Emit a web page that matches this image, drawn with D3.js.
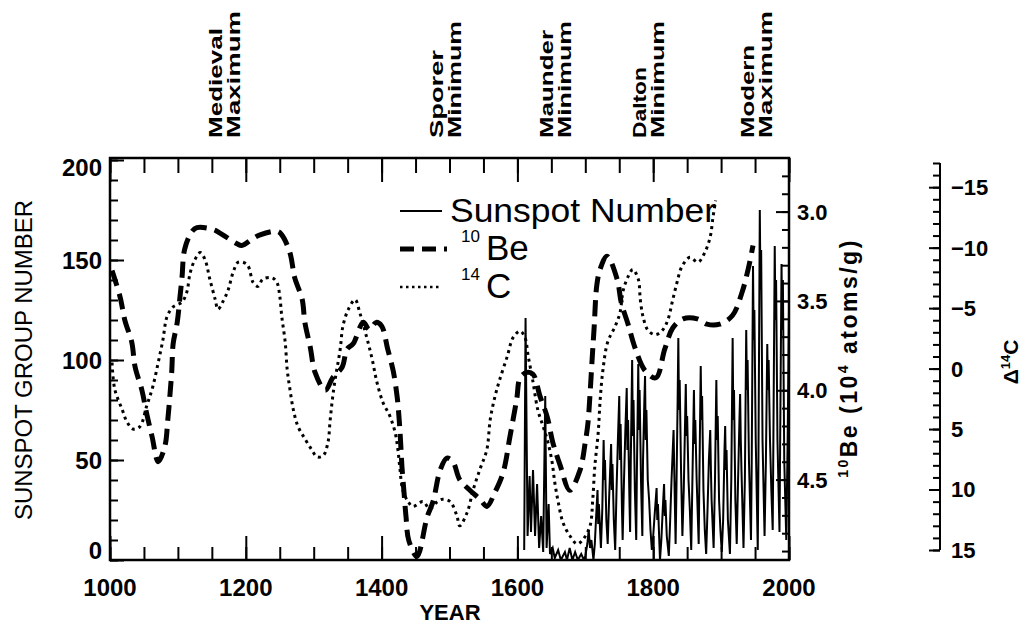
<!DOCTYPE html>
<html><head><meta charset="utf-8">
<script src="https://cdn.jsdelivr.net/npm/d3@7"></script>
<style>body{margin:0;background:#fff}svg{display:block}</style>
</head><body>
<svg id="c" width="1033" height="628"></svg>
<script>
// ---------------- data ----------------
const yearTicks = [1000, 1200, 1400, 1600, 1800, 2000];
const sunspotTicks = [0, 50, 100, 150, 200];
const beTicks = [3.0, 3.5, 4.0, 4.5];
const c14Ticks = [-15, -10, -5, 0, 5, 10, 15];

const periodNames = [["Medieval", "Maximum"], ["Sporer", "Minimum"], ["Maunder", "Minimum"], ["Dalton", "Minimum"], ["Modern", "Maximum"]];
const periodYears = [1165, 1490, 1652, 1790, 1948];

const legendLabels = ["Sunspot Number", "Be", "C"];
const legendSups = ["", "10", "14"];

// group sunspot number (year, value)
const sunspot = [[1610,5],[1612,121],[1615,12],[1618,42],[1620,14],[1623,45],[1626,12],[1629,38],[1632,6],[1635,22],[1638,4],[1641,82],[1643,6],[1646,28],[1648,3],[1652,6],[1655,1],[1660,5],[1664,0],[1670,4],[1673,0],[1677,6],[1681,0],[1685,4],[1689,0],[1694,3],[1698,0],
[1700,2],[1703,8],[1705,15],[1707,6],[1709,10],[1712,0],
[1714,8],[1716,22],[1718,35],[1719,18],[1720,28],[1723,6],
[1725,25],[1727,60],[1728,40],[1729,50],[1731,20],[1733,8],
[1735,30],[1738,58],[1739,35],[1740,48],[1742,20],[1744,5],
[1746,35],[1748,60],[1750,82],[1751,50],[1752,68],[1754,25],[1755,10],
[1757,40],[1759,65],[1761,86],[1762,55],[1763,70],[1765,30],[1766,14],
[1767,50],[1769,100],[1770,62],[1771,80],[1773,35],[1775,10],
[1776,45],[1778,98],[1779,65],[1780,85],[1782,40],[1784,12],
[1785,50],[1787,80],[1788,92],[1789,60],[1790,75],[1792,40],[1794,30],[1796,15],[1798,5],
[1800,12],[1802,22],[1805,36],[1806,20],[1807,28],[1810,0],
[1812,10],[1814,25],[1816,38],[1817,22],[1818,30],[1820,12],[1823,2],
[1825,20],[1827,40],[1830,65],[1831,45],[1833,8],
[1834,30],[1836,80],[1837,111],[1838,75],[1839,90],[1841,45],[1843,12],
[1845,35],[1847,70],[1848,88],[1849,62],[1850,72],[1852,40],[1854,25],[1856,5],
[1857,25],[1859,65],[1860,85],[1861,58],[1862,70],[1864,40],[1867,8],
[1868,40],[1870,97],[1871,70],[1872,82],[1874,35],[1876,15],[1878,3],
[1880,25],[1882,50],[1884,65],[1885,45],[1886,30],[1889,6],
[1891,40],[1893,90],[1894,60],[1895,72],[1897,30],[1899,15],[1901,4],
[1903,20],[1905,55],[1906,67],[1907,45],[1908,55],[1910,20],[1913,3],
[1915,40],[1917,111],[1918,70],[1919,85],[1921,30],[1923,8],
[1925,40],[1927,70],[1928,83],[1929,60],[1930,45],[1933,6],
[1935,40],[1937,115],[1938,85],[1939,100],[1941,50],[1944,10],
[1945,45],[1947,147],[1948,110],[1949,125],[1951,60],[1954,5],
[1955,50],[1957,175],[1958,135],[1959,155],[1961,60],[1964,12],
[1966,50],[1968,108],[1969,85],[1970,100],[1972,60],[1974,35],[1976,15],
[1977,60],[1979,157],[1980,120],[1981,140],[1983,60],[1986,14],
[1987,60],[1989,148],[1990,115],[1991,140],[1993,50],[1996,10],
[1998,60],[2000,125]];

// 10Be concentration (10^4 atoms/g)
const be10 = [[1003,3.33],[1015,3.48],[1022,3.61],[1032,3.73],[1037,3.87],[1047,4.00],[1054,4.13],[1062,4.26],[1071,4.40],[1081,4.31],[1085,4.17],[1088,4.04],[1091,3.89],[1093,3.74],[1099,3.62],[1103,3.48],[1106,3.37],[1110,3.21],[1121,3.11],[1128,3.09],[1152,3.10],[1162,3.12],[1187,3.18],[1194,3.19],[1211,3.15],[1221,3.13],[1246,3.11],[1253,3.13],[1265,3.23],[1272,3.37],[1283,3.49],[1287,3.62],[1295,3.76],[1302,3.90],[1317,4.00],[1328,3.93],[1342,3.87],[1349,3.77],[1358,3.74],[1373,3.62],[1382,3.66],[1392,3.62],[1400,3.64],[1409,3.77],[1417,3.89],[1423,4.04],[1426,4.17],[1428,4.29],[1430,4.43],[1433,4.57],[1436,4.71],[1440,4.84],[1452,4.93],[1467,4.71],[1476,4.62],[1486,4.45],[1496,4.38],[1505,4.40],[1515,4.50],[1530,4.56],[1545,4.61],[1555,4.65],[1567,4.57],[1579,4.46],[1589,4.26],[1599,4.05],[1604,3.93],[1614,3.90],[1623,3.91],[1633,4.03],[1644,4.15],[1652,4.29],[1663,4.42],[1677,4.56],[1692,4.45],[1700,4.29],[1704,4.18],[1707,4.02],[1710,3.83],[1713,3.65],[1717,3.41],[1722,3.32],[1732,3.25],[1747,3.38],[1753,3.51],[1763,3.63],[1773,3.76],[1788,3.89],[1804,3.93],[1817,3.77],[1829,3.65],[1844,3.60],[1865,3.60],[1879,3.63],[1898,3.63],[1917,3.58],[1931,3.45],[1940,3.32],[1947,3.19]];

// Delta 14C (per mil)
const c14 = [[1003,-0.5],[1007,1.7],[1018,3.4],[1025,4.4],[1034,5.0],[1044,4.8],[1054,3.1],[1063,1.5],[1071,-0.5],[1078,-2.4],[1084,-4.3],[1093,-5.1],[1106,-5.5],[1113,-6.3],[1118,-7.9],[1125,-9.0],[1133,-9.6],[1140,-9.0],[1147,-7.4],[1155,-5.7],[1159,-4.9],[1166,-5.5],[1174,-6.5],[1181,-7.9],[1189,-8.8],[1202,-8.6],[1211,-7.1],[1218,-6.8],[1225,-7.4],[1239,-7.5],[1246,-7.1],[1250,-6.0],[1253,-4.3],[1258,-2.2],[1261,0.1],[1265,1.7],[1270,3.4],[1277,4.8],[1287,5.8],[1297,6.7],[1305,7.3],[1314,7.2],[1321,6.1],[1324,4.4],[1327,2.8],[1331,1.1],[1339,-1.6],[1343,-3.5],[1351,-4.9],[1361,-5.7],[1368,-4.6],[1378,-2.6],[1386,-0.8],[1393,1.1],[1402,2.8],[1412,3.9],[1420,5.3],[1424,6.7],[1427,8.3],[1431,10.0],[1439,11.0],[1446,11.4],[1461,11.0],[1471,11.6],[1482,11.0],[1490,10.8],[1501,11.0],[1511,12.2],[1515,13.0],[1526,11.9],[1535,10.0],[1545,8.3],[1555,6.7],[1560,4.2],[1567,2.3],[1574,0.9],[1585,-1.0],[1594,-2.6],[1604,-3.1],[1611,-2.6],[1616,-1.0],[1623,1.1],[1630,3.4],[1638,4.8],[1645,6.1],[1651,7.7],[1655,9.4],[1660,11.0],[1667,12.7],[1677,13.8],[1688,14.5],[1697,14.1],[1707,13.0],[1711,10.8],[1714,8.1],[1719,5.3],[1722,2.5],[1726,0.1],[1733,-2.2],[1744,-3.5],[1751,-4.6],[1756,-6.5],[1763,-7.6],[1770,-8.2],[1778,-7.4],[1781,-5.7],[1785,-4.3],[1792,-3.2],[1803,-2.8],[1814,-3.2],[1822,-4.1],[1828,-5.5],[1835,-7.1],[1842,-8.4],[1854,-9.2],[1866,-8.8],[1876,-9.6],[1884,-10.9],[1888,-12.5],[1892,-13.9]];

// ---------------- layout ----------------
const L = 110, R = 789, T = 158, B = 560;
const svg = d3.select("#c");
const FONT = "'Liberation Sans', Arial, sans-serif";

const x = d3.scaleLinear().domain([1000, 2000]).range([L, R]);
const yS = d3.scaleLinear().domain([0, 201]).range([B, T]);
const yBe = d3.scaleLinear().domain([2.7, 4.95]).range([T, B]);
const yC = d3.scaleLinear().domain([-17, 15]).range([163, 550]);

svg.append("defs").append("clipPath").attr("id", "clip")
  .append("rect").attr("x", L).attr("y", T).attr("width", R - L).attr("height", B - T);

function tickStyle(g) {
  g.select(".domain").remove();
  g.selectAll(".tick line").attr("stroke", "#000").attr("stroke-width", 2);
  g.selectAll(".tick text").remove();
}

// left axis ticks (inside)
svg.append("g").attr("transform", `translate(${L},0)`)
  .call(d3.axisRight(yS).tickValues(d3.range(0, 201, 10)).tickSize(8)).call(tickStyle);
svg.append("g").attr("transform", `translate(${L},0)`)
  .call(d3.axisRight(yS).tickValues(sunspotTicks).tickSize(14)).call(tickStyle);
// bottom ticks
svg.append("g").attr("transform", `translate(0,${B})`)
  .call(d3.axisTop(x).tickValues(d3.range(1000, 2001, 50)).tickSize(13)).call(tickStyle);
svg.append("g").attr("transform", `translate(0,${B})`)
  .call(d3.axisTop(x).tickValues(yearTicks).tickSize(24)).call(tickStyle);
// top ticks
svg.append("g").attr("transform", `translate(0,${T})`)
  .call(d3.axisBottom(x).tickValues(d3.range(1000, 2001, 50)).tickSize(15)).call(tickStyle);
svg.append("g").attr("transform", `translate(0,${T})`)
  .call(d3.axisBottom(x).tickValues(yearTicks).tickSize(24)).call(tickStyle);
// right 10Be ticks
svg.append("g").attr("transform", `translate(${R},0)`)
  .call(d3.axisLeft(yBe).tickValues(d3.range(28, 50).map(v => v / 10)).tickSize(7)).call(tickStyle);
svg.append("g").attr("transform", `translate(${R},0)`)
  .call(d3.axisLeft(yBe).tickValues(beTicks).tickSize(13)).call(tickStyle);
// Delta 14C axis
const cx = 940;
svg.append("line").attr("x1", cx).attr("x2", cx).attr("y1", yC(-17)).attr("y2", yC(15))
  .attr("stroke", "#000").attr("stroke-width", 2);
svg.append("g").attr("transform", `translate(${cx},0)`)
  .call(d3.axisLeft(yC).tickValues(d3.range(-17, 16, 1)).tickSize(7)).call(tickStyle);
svg.append("g").attr("transform", `translate(${cx},0)`)
  .call(d3.axisLeft(yC).tickValues(c14Ticks).tickSize(11)).call(tickStyle);

// frame
svg.append("rect").attr("x", L).attr("y", T).attr("width", R - L).attr("height", B - T)
  .attr("fill", "none").attr("stroke", "#000").attr("stroke-width", 2.5);

// tick labels
const lab = svg.append("g").attr("font-family", FONT).attr("font-weight", "bold").attr("fill", "#000");
lab.selectAll(".yl").data(sunspotTicks).join("text")
  .attr("x", 102).attr("y", d => Math.min(Math.max(yS(d), 167), 550)).attr("dy", "0.36em")
  .attr("text-anchor", "end").attr("font-size", 24).text(d => d);
lab.selectAll(".xl").data(yearTicks).join("text")
  .attr("x", d => x(d)).attr("y", 596).attr("text-anchor", "middle").attr("font-size", 24).text(d => d);
lab.selectAll(".bl").data(beTicks).join("text")
  .attr("x", 797).attr("y", d => yBe(d)).attr("dy", "0.36em").attr("font-size", 22).text(d => d.toFixed(1));
lab.selectAll(".cl").data(c14Ticks).join("text")
  .attr("x", 951).attr("y", d => yC(d)).attr("dy", "0.36em").attr("font-size", 22)
  .text(d => d < 0 ? "\u2212" + Math.abs(d) : String(d));

// axis titles
svg.append("text").attr("transform", `translate(32,360) rotate(-90)`).attr("text-anchor", "middle")
  .attr("font-family", FONT).attr("font-size", 24).attr("textLength", 320).attr("lengthAdjust", "spacingAndGlyphs")
  .text("SUNSPOT GROUP NUMBER");
svg.append("text").attr("x", 450).attr("y", 620).attr("text-anchor", "middle")
  .attr("font-family", FONT).attr("font-weight", "bold").attr("font-size", 22).text("YEAR");
const beT = svg.append("text").attr("transform", `translate(857,358) rotate(-90)`).attr("text-anchor", "middle")
  .attr("font-family", FONT).attr("font-weight", "bold").attr("letter-spacing", 2.5);
beT.append("tspan").attr("font-size", 14).attr("dy", -9).text("10");
beT.append("tspan").attr("font-size", 23).attr("dy", 9).text("Be (10");
beT.append("tspan").attr("font-size", 14).attr("dy", -9).text("4");
beT.append("tspan").attr("font-size", 23).attr("dy", 9).text(" atoms/g)");
const cT = svg.append("text").attr("transform", `translate(1018,362) rotate(-90)`).attr("text-anchor", "middle")
  .attr("font-family", FONT).attr("font-weight", "bold");
cT.append("tspan").attr("font-size", 21).text("\u0394");
cT.append("tspan").attr("font-size", 13).attr("dy", -8).text("14");
cT.append("tspan").attr("font-size", 21).attr("dy", 8).text("C");

// period annotations
const periodLen = { "Medieval": 110, "Maximum": 127, "Sporer": 88, "Minimum": 117, "Maunder": 108, "Dalton": 71, "Modern": 93 };
const ann = svg.append("g").attr("font-family", FONT).attr("font-weight", "bold").attr("font-size", 19);
periodNames.forEach((lines, i) => {
  lines.forEach((t, j) => {
    ann.append("text").attr("transform", `translate(${x(periodYears[i]) + j * 18},138) rotate(-90)`)
      .attr("textLength", periodLen[t]).attr("lengthAdjust", "spacingAndGlyphs").text(t);
  });
});

// data lines
const plot = svg.append("g").attr("clip-path", "url(#clip)");
const lineS = d3.line().x(d => x(d[0])).y(d => yS(d[1]));
const lineBe = d3.line().x(d => x(d[0])).y(d => yBe(d[1])).curve(d3.curveCatmullRom.alpha(0.5));
const lineC = d3.line().x(d => x(d[0])).y(d => yC(d[1])).curve(d3.curveCatmullRom.alpha(0.5));
plot.append("path").attr("d", lineC(c14)).attr("fill", "none").attr("stroke", "#000")
  .attr("stroke-width", 3).attr("stroke-dasharray", "3 4");
plot.append("path").attr("d", lineBe(be10)).attr("fill", "none").attr("stroke", "#000")
  .attr("stroke-width", 5).attr("stroke-dasharray", "16 8");
plot.append("path").attr("d", lineS(sunspot)).attr("fill", "none").attr("stroke", "#000")
  .attr("stroke-width", 2).attr("stroke-linejoin", "miter");

// legend
const lg = svg.append("g").attr("font-family", FONT).attr("fill", "#000");
const legY = [211, 249, 287];
const legDash = [null, "14 8", "2.5 3.5"];
const legW = [2, 5, 2.5];
legendLabels.forEach((t, i) => {
  lg.append("line").attr("x1", 400).attr("x2", i === 1 ? 447 : 442).attr("y1", legY[i]).attr("y2", legY[i])
    .attr("stroke", "#000").attr("stroke-width", legW[i]).attr("stroke-dasharray", legDash[i]);
  if (legendSups[i]) {
    lg.append("text").attr("x", 461).attr("y", legY[i] - 7).attr("font-size", 17).text(legendSups[i]);
    lg.append("text").attr("x", 486).attr("y", legY[i] + 11).attr("font-size", 35).text(t);
  } else {
    lg.append("text").attr("x", 450).attr("y", legY[i] + 11).attr("font-size", 34)
      .attr("textLength", 266).attr("lengthAdjust", "spacingAndGlyphs").text(t);
  }
});
</script>
</body></html>
